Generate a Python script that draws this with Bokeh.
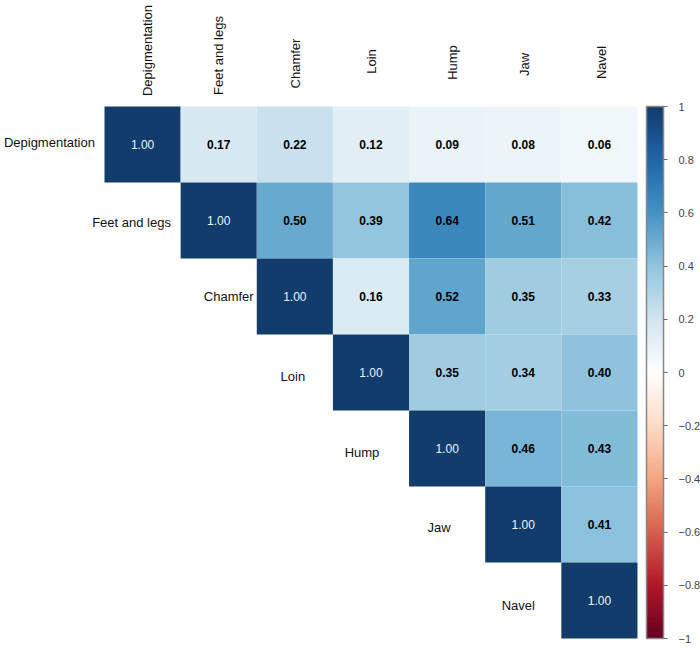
import math
from bokeh.plotting import figure
from bokeh.models import ColumnDataSource, Range1d, LinearColorMapper, ColorBar, FixedTicker
from bokeh.embed import file_html
from bokeh.resources import INLINE
from bokeh.core.properties import value

# ---- data ----
variables = ["Depigmentation", "Feet and legs", "Chamfer", "Loin", "Hump", "Jaw", "Navel"]
# upper triangle rows (starting at the diagonal)
row_depigmentation = [1.00, 0.17, 0.22, 0.12, 0.09, 0.08, 0.06]
row_feet_and_legs = [1.00, 0.50, 0.39, 0.64, 0.51, 0.42]
row_chamfer = [1.00, 0.16, 0.52, 0.35, 0.33]
row_loin = [1.00, 0.35, 0.34, 0.40]
row_hump = [1.00, 0.46, 0.43]
row_jaw = [1.00, 0.41]
row_navel = [1.00]
colorbar_ticks = [-1, -0.8, -0.6, -0.4, -0.2, 0, 0.2, 0.4, 0.6, 0.8, 1]

rows = [row_depigmentation, row_feet_and_legs, row_chamfer, row_loin,
        row_hump, row_jaw, row_navel]
n = len(variables)

# ---- label placement tweaks (pixels) ----
row_label_dx = [-17, -11, 10, -2, -9, -8, -5]      # centre offset from cell centre
row_label_dy = [-2, 2, 0, 4, 4, 3, 5]               # downward offset
col_label_dx = [5, 0, 1, 1, 5, 1, 2]
col_label_cy = [50, 55, 63, 61, 62, 64, 62]         # vertical centre (px from top)

# ---- palette (RdBu, 200 steps) ----
stops = ["#67001F", "#B2182B", "#D6604D", "#F4A582", "#FDDBC7", "#FFFFFF",
         "#D1E5F0", "#92C5DE", "#4393C3", "#2166AC", "#123C6B"]


def h2rgb(h):
    h = h.lstrip("#")
    return tuple(int(h[i:i + 2], 16) for i in (0, 2, 4))


def interp_palette(cols, m):
    rgb = [h2rgb(c) for c in cols]
    out = []
    for k in range(m):
        t = k / (m - 1) * (len(rgb) - 1)
        i = min(int(t), len(rgb) - 2)
        f = t - i
        c = tuple(round(rgb[i][j] + (rgb[i + 1][j] - rgb[i][j]) * f) for j in range(3))
        out.append("#%02x%02x%02x" % c)
    return out


palette = interp_palette(stops, 200)
mapper = LinearColorMapper(palette=palette, low=-1, high=1)

# ---- build cell table ----
cx, cy, cr, lab, diag = [], [], [], [], []
for i, r in enumerate(rows):
    for k, v in enumerate(r):
        j = i + k
        cx.append(j + 0.5)
        cy.append(n - i - 0.5)
        cr.append(v)
        lab.append("%.2f" % v)
        diag.append(j == i)

src = ColumnDataSource(dict(x=cx, y=cy, r=cr, lab=lab))
src_diag = ColumnDataSource(dict(x=[a for a, d in zip(cx, diag) if d],
                                 y=[b for b, d in zip(cy, diag) if d],
                                 lab=[l for l, d in zip(lab, diag) if d]))
src_off = ColumnDataSource(dict(x=[a for a, d in zip(cx, diag) if not d],
                                y=[b for b, d in zip(cy, diag) if not d],
                                lab=[l for l, d in zip(lab, diag) if not d]))

W, H = 700, 651
left, top = 104, 106
cw, ch = 76.14, 76.0

p = figure(width=W, height=H, output_backend="svg", toolbar_location=None,
           x_range=Range1d(-left / cw, (W - left) / cw),
           y_range=Range1d(n - (H - top) / ch, n + top / ch),
           x_axis_location=None, y_axis_location=None, min_border=0)
p.grid.visible = False
p.outline_line_color = None
p.background_fill_color = "white"

p.rect(x="x", y="y", width=1, height=1, source=src,
       fill_color={"field": "r", "transform": mapper}, line_color=None)

font = value("Liberation Sans")
p.text(x="x", y="y", text="lab", source=src_diag, text_font=font,
       text_font_size="12px", text_color="#eef3f8", text_align="center",
       text_baseline="middle")
p.text(x="x", y="y", text="lab", source=src_off, text_font=font,
       text_font_size="12px", text_font_style="bold", text_color="black",
       text_align="center", text_baseline="middle")

# row labels (left of the diagonal)
p.text(x=[i - 0.5 + row_label_dx[i] / cw for i in range(n)],
       y=[n - i - 0.5 - row_label_dy[i] / ch for i in range(n)],
       text=variables, text_font=font, text_font_size="13px", text_color="#111111",
       text_align="center", text_baseline="middle")
# column labels (top, rotated)
p.text(x=[j + 0.5 + col_label_dx[j] / cw for j in range(n)],
       y=[n + (top - col_label_cy[j]) / ch for j in range(n)], text=variables,
       angle=math.pi / 2, text_font=font, text_font_size="13px", text_color="#111111",
       text_align="center", text_baseline="middle")

cb = ColorBar(color_mapper=mapper, location=(646, H - 638), width=17, height=532,
              padding=0, ticker=FixedTicker(ticks=colorbar_ticks),
              major_tick_in=0, major_tick_out=4, major_tick_line_color="#666666",
              bar_line_color="#888888", bar_line_width=1.5,
              minor_tick_line_color=None, label_standoff=11,
              major_label_text_font="Liberation Sans",
              major_label_text_font_size="11px", major_label_text_color="#444444",
              border_line_color=None, background_fill_color=None)
p.add_layout(cb, "center")

open("out.html", "w").write(file_html(p, INLINE))
